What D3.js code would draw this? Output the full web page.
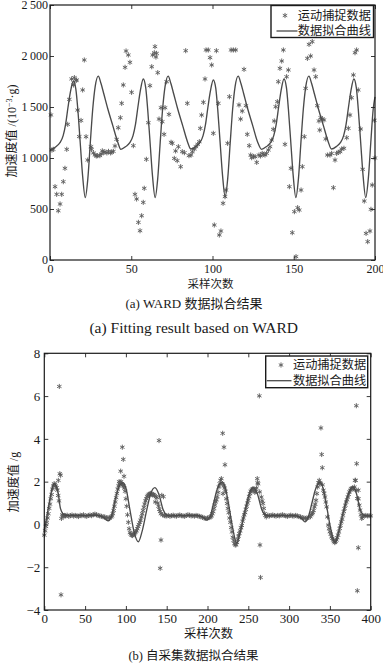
<!DOCTYPE html>
<html><head><meta charset="utf-8">
<script src="https://cdn.jsdelivr.net/npm/d3@7"></script>
<style>
body{margin:0;background:#fff;}
svg{display:block;}
text{font-family:"Liberation Serif","Times New Roman","DejaVu Serif","Noto Sans CJK SC",serif;fill:#1a1a1a;}
text.cjk{font-family:"Noto Sans CJK SC","Liberation Serif",sans-serif;}
</style></head><body>
<svg id="c" width="383" height="664"></svg>
<script>
// ---------- Panel (a): WARD data ----------
const topSampleX = [
0.6,1.2,2,3.1,4.1,5.1,6.2,7.2,8.2,9.2,
10.3,10.9,11.9,13.3,14.4,15,16,16.4,17,18,
19.1,20.1,21.1,22.2,23.2,25.2,25.6,26.7,27.7,28.5,
29.3,30.7,31.5,32.2,33,33.8,35,36,37.3,38,
39,40,41,42,43.3,44.1,45.1,46.2,46.8,48.2,
49.2,50.2,51.3,52.3,53.3,54.4,55.4,56.4,57.4,58,
59.3,60.5,61.5,62.6,63.2,64.2,64.6,65.2,65.6,66.3,
67.1,68.3,69.1,70.2,70.8,71.8,73.2,74.5,75.3,76.5,
77.3,78.3,79,80.4,81.4,82.7,83.5,84.5,85.5,86.8,
87.6,88.8,89.8,90.9,91.9,92.5,93.3,94.4,95.4,96,
97.4,98.5,99.5,100.5,101.1,102.4,103.6,104.2,105.2,106.5,
107.7,108.3,109.3,110.4,111.4,112.8,114.3,116.3,117.3,118.3,
119.4,120.6,121.4,122.6,123.5,124.1,125.2,126.2,127.2,128.6,
129.6,130.6,131.5,132.3,133.3,134.4,135.4,136.4,137.4,138,
138.9,139.9,140.5,141.5,142.6,143.6,144.6,145.6,146.7,147.3,
148.3,149.1,150.4,151.4,152.4,153.4,154.5,155.3,156.5,157.3,
158.4,159.4,160.4,161.4,162.5,163.5,164.5,165.5,166,166.6,
167.6,168.6,169.7,170.7,172.3,173.3,174.4,175.4,176.4,177.4,
178.5,179.5,180.9,182.6,183.6,184.6,185.6,186.7,187.7,188.7,
189.7,191.2,192.4,193.4,194.5,195.5,196.9,197.5,198.3,199.6,
200];
const topSampleY = [
1422,1078,1085,719,644,483,549,644,768,899,
1085,1330,1575,1775,1716,1788,1760,1765,1470,1210,
1368,1667,1961,1209,980,1111,1085,1050,1030,1020,
1023,1023,1040,1070,1055,1060,1050,1065,1050,1060,
1065,1118,1183,1297,1395,1536,1716,1889,2049,2010,
1938,1644,1121,644,598,369,287,434,565,703,
987,1346,1709,1895,2010,2032,2092,1990,2026,1837,
1382,1493,1356,1232,1493,1748,1428,1154,1144,996,
1069,974,1111,915,1062,1052,2052,1536,1023,1029,
1062,1088,1111,1134,1160,1291,1421,1546,1775,2059,
2059,1984,1912,1242,343,2052,1536,245,284,556,
621,686,1144,1601,2059,2059,2059,1520,1382,1460,
1869,1513,1232,1121,1029,1003,1015,1013,957,1029,
1020,1045,1035,1029,1046,1078,1111,1176,1281,1363,
1503,1552,1748,1879,1951,2059,1134,1797,1863,719,
899,268,474,33,513,490,686,915,1209,1683,
1977,2114,2000,2141,1863,1797,1513,1363,1274,1395,
1382,1373,1187,1029,1029,1045,709,980,1045,1056,
1062,1088,1095,1199,1291,1421,1591,1814,2032,2059,
1667,1284,889,578,261,180,284,497,735,1369,
1000];
const topFitX = [
0,0.6,3.6,6.1,8.1,9.6,11.1,12.6,14.4,15.9,17.1,18.6,20.1,21.7,23.3,24.8,26.3,27.8,29.7,31.4,33.1,35.6,38.6,41.6,
43.6,46.6,49.1,51.1,52.6,54.1,55.6,57.4,58.9,60.1,61.6,63.1,64.7,66.3,67.8,69.3,70.8,72.7,74.4,76.1,78.6,81.6,84.6,
86.7,89.7,92.2,94.2,95.7,97.2,98.7,100.5,102.0,103.2,104.7,106.2,107.8,109.4,110.9,112.4,113.9,115.8,117.5,119.2,121.7,124.7,127.7,
130.2,133.2,135.7,137.7,139.2,140.7,142.2,144.0,145.5,146.7,148.2,149.7,151.3,152.9,154.4,155.9,157.4,159.3,161.0,162.7,165.2,168.2,171.2,
173.2,176.2,178.7,180.7,182.2,183.7,185.2,187.0,188.5,189.7,191.2,192.7,194.3,195.9,197.4,198.9,200];
const topFitY = [
1072,1080,1110,1150,1220,1330,1500,1650,1755,1675,1480,1150,820,612,800,1150,1480,1700,1803,1730,1630,1480,1320,1160,
1085,1112,1150,1220,1330,1500,1660,1775,1690,1480,1150,820,612,800,1150,1480,1700,1803,1730,1630,1480,1320,1160,
1088,1112,1150,1220,1330,1500,1655,1765,1685,1480,1150,825,620,805,1150,1480,1700,1803,1730,1630,1480,1320,1160,
1085,1112,1150,1220,1330,1500,1660,1775,1690,1480,1150,820,612,800,1150,1480,1700,1803,1730,1630,1480,1320,1160,
1088,1112,1150,1220,1330,1500,1660,1775,1690,1480,1150,820,612,800,1150,1480,1600];
const topXTicks = [0,50,100,150,200];
const topYTicks = [0,500,1000,1500,2000,2500];

// ---------- Panel (b): self-collected data ----------
const botSampleX = [
0,1,2,3,4,5,6,7,8,9,10,11,12,13,14,15,16,17,17.2,18,18.4,19,20,20.5,21,22,23,24,25,
26,28,30,32,34,36,38,40,42,44,46,48,50,52,54,56,58,60,62,64,66,68,70,72,74,76,78,80,
82,83,84,85,86,87,88,89,90,91,91.7,92,93,93.6,94,95,95.6,96,96.8,97,97.7,98,
99,100,101,102,103,104,105,106,107,108,109,110,111,112,113,114,115,116,117,118,119,120,
121,122,123,124,125,126,127,128,129,130,131,132,133,134,135,136,137,138,139,140,
140.6,141,142,142,143,143,144,145,146,147,148,
150,152,154,156,158,160,162,164,166,168,170,172,174,176,178,180,182,184,186,188,190,192,194,196,198,200,202,204,
205,206,207,208,209,210,211,212,213,214,215,216,217,218,218.6,219,220,220.2,221,221.4,
222,223,224,225,226,227,228,229,230,231,232,233,234,235,236,237,238,239,240,241,
242,243,244,245,246,247,248,249,250,251,252,253,254,255,256,257,258,259,260,
261,261.5,262,263.5,264,264.3,265,266,267,268,269,270,271,272,
274,276,278,280,282,284,286,288,290,292,294,296,298,300,302,304,306,308,310,312,314,316,318,320,322,324,326,
327,328,329,330,331,332,333,334,335,336,337,337.6,338,339,339.9,340.7,341,342,343,344,345,346,347,
348,349,350,351,352,353,354,355,356,357,358,359,360,361,362,363,364,365,366,367,368,369,370,
371,372,373,374,375,376,377,378,379,380,380.8,381.5,382,382.4,382.8,383.6,383.6,384.8,384.8,385,
386,387,388,389,390,392,394,396,398,400];
const botSampleY = [
-0.5,-0.3,-0.1,0.1,0.3,0.5,0.75,0.95,1.2,1.4,1.65,1.8,1.9,1.88,1.8,1.72,1.6,1.35,2.06,1.1,6.45,2.37,2.3,-3.29,0.28,0.45,0.4,0.38,0.42,
0.4,0.43,0.38,0.41,0.44,0.39,0.42,0.4,0.37,0.43,0.41,0.45,0.4,0.38,0.42,0.44,0.41,0.46,0.48,0.45,0.42,0.4,0.38,0.36,0.35,0.3,0.32,0.3,
0.35,0.4,0.5,0.65,0.85,1.05,1.25,1.45,1.65,1.8,2.0,1.9,1.95,2.49,2.0,1.9,3.61,1.85,3.04,1.8,2.25,1.7,
1.55,1.2,0.85,0.45,0.1,-0.2,-0.38,-0.45,-0.5,-0.52,-0.48,-0.45,-0.4,-0.35,-0.3,-0.2,-0.1,0.0,0.1,0.2,0.35,0.5,
0.65,0.8,0.95,1.1,1.2,1.3,1.35,1.4,1.42,1.45,1.42,1.4,1.38,1.4,1.35,1.05,1.3,1.25,1.0,0.85,
3.92,0.7,0.6,-2.05,-0.73,0.5,1.36,0.45,1.3,0.42,0.4,
0.4,0.42,0.38,0.41,0.43,0.4,0.39,0.42,0.44,0.41,0.4,0.38,0.42,0.45,0.43,0.4,0.41,0.39,0.42,0.4,0.38,0.36,0.33,0.3,0.28,0.3,0.32,0.35,
0.4,0.5,0.6,0.75,0.9,1.05,1.15,1.3,1.5,1.75,1.9,2.06,2.14,1.9,4.26,1.44,1.8,3.61,1.7,2.79,
1.55,1.2,0.98,0.75,0.55,0.3,0.1,-0.15,-0.35,-0.6,-0.75,-0.9,-0.96,-0.95,-0.85,-0.7,-0.55,-0.42,-0.3,-0.15,
-0.05,0.15,0.3,0.45,0.55,0.7,0.85,1.0,1.13,1.3,1.44,1.55,1.6,1.65,1.67,1.6,1.5,1.55,1.7,
2.14,1.95,1.9,6.01,1.52,-0.96,-2.48,1.28,1.1,0.98,0.75,0.51,0.42,0.35,
0.43,0.4,0.42,0.44,0.41,0.39,0.42,0.4,0.43,0.45,0.42,0.4,0.38,0.41,0.43,0.4,0.39,0.42,0.4,0.37,0.35,0.32,0.3,0.28,0.3,0.33,0.36,
0.45,0.5,0.55,0.65,0.82,0.95,1.13,1.44,1.75,1.95,2.06,1.9,1.95,4.51,3.27,2.65,1.85,1.6,1.45,1.28,1.05,0.82,0.35,
-0.03,-0.2,-0.34,-0.45,-0.58,-0.65,-0.73,-0.8,-0.85,-0.8,-0.73,-0.62,-0.5,-0.35,-0.19,-0.05,0.12,0.25,0.43,0.6,0.74,0.9,1.05,
1.15,1.28,1.4,1.52,1.6,1.67,1.68,1.7,1.68,1.75,2.06,2.06,1.6,5.55,2.84,-3.1,1.21,-1.09,1.6,1.2,
0.9,0.67,0.45,0.28,0.35,0.4,0.42,0.4,0.41,0.4];
const botFitX = [0,3,6,9,12.3,15,17.2,19.5,22.5,26,32,40,48,56,64,70,74,78.4,82,86.6,
90,93.5,96.8,100,105,110,115.2,120,125.5,130.5,135.6,140.5,145.8,150,154,165,175,185,192,196,
199,203,207.5,211.5,215,218.6,222,226.5,231,235.8,240.5,246,251,256.1,261,266.5,271,275,285,295,
305,312,316,319.5,323.5,328,332,335,337.9,341.5,346,351,356.3,361,366.5,372,377.9,382.5,387,391,395,400];
const botFitY = [-0.27,0.35,1.0,1.6,1.91,1.75,1.44,0.8,0.52,0.43,0.42,0.43,0.41,0.43,0.42,0.38,0.28,0.17,0.35,1.13,
1.6,1.88,1.94,1.7,0.67,-0.35,-0.81,-0.3,0.67,1.45,1.72,1.4,0.67,0.44,0.4,0.42,0.41,0.43,0.38,0.3,
0.2,0.35,1.0,1.6,1.9,1.98,1.7,0.8,-0.2,-0.88,-0.3,0.65,1.4,1.72,1.45,0.7,0.44,0.4,0.42,0.41,
0.42,0.35,0.25,0.12,0.35,1.0,1.6,1.88,1.98,1.7,0.85,-0.2,-0.85,-0.3,0.6,1.35,1.75,1.45,0.7,0.45,0.4,0.4];
const botXTicks = [0,50,100,150,200,250,300,350,400];
const botYTicks = [-4,-2,0,2,4,6,8];

const legendLabels = ["运动捕捉数据","数据拟合曲线"];

// ---------- drawing ----------
const SERIF = '"Liberation Serif","Times New Roman","DejaVu Serif","Noto Sans CJK SC",serif';
const svg = d3.select("#c");
svg.append("rect").attr("width",383).attr("height",664).attr("fill","#fff");
const starType = d3.symbolAsterisk || d3.symbolCross;

function panel(cfg){
  const g = svg.append("g");
  const x = d3.scaleLinear().domain(cfg.xDomain).range([cfg.left,cfg.right]);
  const y = d3.scaleLinear().domain(cfg.yDomain).range([cfg.bottom,cfg.top]);
  const sym = d3.symbol(starType, cfg.symSize);
  g.append("g").selectAll("path").data(cfg.sx).join("path")
    .attr("transform",(d,i)=>`translate(${x(d)},${y(cfg.sy[i])})`)
    .attr("d",sym).attr("fill","none").attr("stroke","#5a5a5a").attr("stroke-width",0.9);
  const line = d3.line().x(d=>x(d[0])).y(d=>y(d[1])).curve(d3.curveMonotoneX);
  g.append("path").datum(d3.zip(cfg.fx,cfg.fy)).attr("d",line)
    .attr("fill","none").attr("stroke","#4a4a4a").attr("stroke-width",1.35);

  const styleAxis = s=>{
    s.attr("font-family",null).attr("font-size",null);
    s.select(".domain").remove();
    s.selectAll("line").attr("stroke","#222").attr("stroke-width",0.9);
    s.selectAll("text").style("font-family",SERIF).style("font-size",cfg.tickFont+"px").attr("fill","#1a1a1a");
  };
  g.append("g").attr("transform",`translate(0,${cfg.bottom})`)
    .call(d3.axisBottom(x).tickValues(cfg.xTicks).tickSizeInner(-4).tickSizeOuter(0).tickPadding(cfg.xPad).tickFormat(cfg.xFmt)).call(styleAxis);
  g.append("g").attr("transform",`translate(0,${cfg.top})`)
    .call(d3.axisTop(x).tickValues(cfg.xTicks).tickSizeInner(-4).tickSizeOuter(0).tickFormat(()=>"")).call(styleAxis);
  g.append("g").attr("transform",`translate(${cfg.left},0)`)
    .call(d3.axisLeft(y).tickValues(cfg.yTicks).tickSizeInner(-4).tickSizeOuter(0).tickPadding(cfg.yPad).tickFormat(cfg.yFmt)).call(styleAxis);
  g.append("g").attr("transform",`translate(${cfg.right},0)`)
    .call(d3.axisRight(y).tickValues(cfg.yTicks).tickSizeInner(-4).tickSizeOuter(0).tickFormat(()=>"")).call(styleAxis);

  g.append("rect").attr("x",cfg.left).attr("y",cfg.top)
    .attr("width",cfg.right-cfg.left).attr("height",cfg.bottom-cfg.top)
    .attr("fill","none").attr("stroke","#1a1a1a").attr("stroke-width",1.2);

  // legend
  const L = cfg.legend;
  const lg = g.append("g");
  lg.append("rect").attr("x",L.x0).attr("y",L.y0).attr("width",L.x1-L.x0).attr("height",L.y1-L.y0)
    .attr("fill","#fff").attr("stroke","#1a1a1a").attr("stroke-width",1.4);
  lg.append("path").attr("transform",`translate(${L.mx},${L.r1})`).attr("d",sym)
    .attr("fill","none").attr("stroke","#5a5a5a").attr("stroke-width",0.9);
  lg.append("line").attr("x1",L.lx0).attr("x2",L.lx1).attr("y1",L.r2).attr("y2",L.r2)
    .attr("stroke","#4a4a4a").attr("stroke-width",1.3);
  lg.selectAll("text").data(legendLabels).join("text").attr("class","cjk")
    .attr("x",L.tx).attr("y",(d,i)=>i?L.r2:L.r1).attr("dy","0.36em")
    .attr("font-size",L.fs).text(d=>d);
}

const fmtTop = d => d>=1000 ? Math.floor(d/1000)+"\u2009"+String(d%1000).padStart(3,"0") : String(d);
const fmtBot = d => d<0 ? "\u2212"+Math.abs(d) : String(d);

panel({
  xDomain:[0,200], yDomain:[0,2500], left:50, right:375, top:5, bottom:260,
  sx:topSampleX, sy:topSampleY, fx:topFitX, fy:topFitY, symSize:18,
  xTicks:topXTicks, yTicks:topYTicks, xFmt:d=>String(d), yFmt:fmtTop,
  tickFont:12, xPad:4, yPad:2,
  legend:{x0:271,y0:5.5,x1:373.5,y1:37.5,mx:285,lx0:276.5,lx1:297.5,tx:297.8,r1:15.5,r2:31,fs:12.2}
});
panel({
  xDomain:[0,400], yDomain:[-4,8], left:44.3, right:370.7, top:353.3, bottom:610,
  sx:botSampleX, sy:botSampleY, fx:botFitX, fy:botFitY, symSize:18,
  xTicks:botXTicks, yTicks:botYTicks, xFmt:d=>String(d), yFmt:fmtBot,
  tickFont:13, xPad:3.5, yPad:4,
  legend:{x0:265.7,y0:356,x1:367.7,y1:387.7,mx:281,lx0:266.7,lx1:291.5,tx:293,r1:365,r2:380.7,fs:12.2}
});

// axis titles & captions
function ytitle(cx,cy,parts,fs){
  const t = svg.append("text").attr("transform",`translate(${cx},${cy}) rotate(-90)`)
    .attr("text-anchor","middle").attr("dy","0.36em").attr("font-size",fs);
  parts.forEach(p=>{
    const s = t.append("tspan").text(p.t);
    if(p.dy) s.attr("dy",p.dy);
    if(p.fs) s.attr("font-size",p.fs);
  });
}
ytitle(11.5,131,[{t:"加速度值 /(10"},{t:"\u22123",dy:-4,fs:8},{t:"·g)",dy:4}],12);
ytitle(14,482,[{t:"加速度值 /g"}],12);

svg.append("text").attr("class","cjk").attr("x",210.5).attr("y",283.5).attr("dy","0.36em")
  .attr("text-anchor","middle").attr("font-size",11.5).text("采样次数");
svg.append("text").attr("class","cjk").attr("x",208.5).attr("y",634).attr("dy","0.36em")
  .attr("text-anchor","middle").attr("font-size",12.3).text("采样次数");
svg.append("text").attr("x",194).attr("y",303.3).attr("dy","0.36em")
  .attr("text-anchor","middle").attr("font-size",13).text("(a) WARD 数据拟合结果");
svg.append("text").attr("x",193.7).attr("y",327.3).attr("dy","0.36em")
  .attr("text-anchor","middle").attr("font-size",15.5).text("(a) Fitting result based on WARD");
svg.append("text").attr("x",193.5).attr("y",655).attr("dy","0.36em")
  .attr("text-anchor","middle").attr("font-size",12.5).text("(b) 自采集数据拟合结果");
</script>
</body></html>
